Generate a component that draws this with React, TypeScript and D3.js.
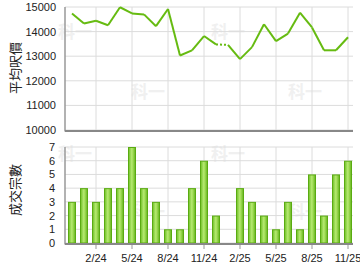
import React from "react";
import * as d3 from "d3";

const months = [
  "12/23","1/24","2/24","3/24","4/24","5/24","6/24","7/24","8/24","9/24","10/24","11/24",
  "12/24","1/25","2/25","3/25","4/25","5/25","6/25","7/25","8/25","9/25","10/25","11/25",
];
const avgPrice = [
  14740, 14330, 14440, 14260, 14990, 14740, 14700, 14220, 14920, 13030, 13240, 13820,
  13480, 13460, 12880, 13370, 14300, 13610, 13920, 14770, 14170, 13240, 13240, 13770,
];
// months with no transactions (price carried over, drawn dotted)
const noDeal = [
  false,false,false,false,false,false,false,false,false,false,false,false,
  false,true,false,false,false,false,false,false,false,false,false,false,
];
const deals = [3, 4, 3, 4, 4, 7, 4, 3, 1, 1, 4, 6, 2, 0, 4, 3, 2, 1, 3, 1, 5, 2, 5, 6];
const tickMonths = ["2/24","5/24","8/24","11/24","2/25","5/25","8/25","11/25"];
const priceTicks = [10000, 11000, 12000, 13000, 14000, 15000];
const dealTicks = [0, 1, 2, 3, 4, 5, 6, 7];

const FONT = "'Liberation Sans', Arial, sans-serif";

export default function App() {
  const x = d3.scaleBand<string>().domain(months).range([66, 354]).paddingInner(1 / 3).paddingOuter(1 / 6);
  const cx = (m: string) => (x(m) as number) + x.bandwidth() / 2;
  const yP = d3.scaleLinear().domain([10000, 15000]).range([130, 7]);
  const yD = d3.scaleLinear().domain([0, 7]).range([243, 147]);
  const left = 65, right = 353;

  const line = d3.line<number>().x((_, i) => cx(months[i])).y((d) => yP(d));
  const segs = avgPrice.slice(1).map((v, i) => ({
    d: line([avgPrice[i], v].map((z) => z)) as string,
    i,
  }));
  const segPath = (i: number) =>
    `M${cx(months[i])},${yP(avgPrice[i])}L${cx(months[i + 1])},${yP(avgPrice[i + 1])}`;

  const marks = [
    [75, 38], [148, 98], [228, 38], [305, 98],
    [75, 160], [148, 218], [228, 160], [305, 218],
  ];

  return (
    <svg width={360} height={270} style={{ position: "absolute", left: 0, top: 0, background: "#fff" }}>
      <defs>
        <linearGradient id="barg" x1="0" x2="1" y1="0" y2="0">
          <stop offset="0" stopColor="#6cbf22" />
          <stop offset="0.45" stopColor="#b4e870" />
          <stop offset="0.6" stopColor="#a6df5c" />
          <stop offset="1" stopColor="#62b41a" />
        </linearGradient>
      </defs>
      {marks.map(([mx, my], i) => (
        <text key={"w" + i} x={mx} y={my} textAnchor="middle" fontFamily="'Noto Sans CJK TC'" fontWeight="bold"
          fontSize={17} fill="#f0f0f0">科一</text>
      ))}
      {/* grids top */}
      {priceTicks.map((t) => (
        <line key={"pg" + t} x1={left} x2={right} y1={yP(t)} y2={yP(t)} stroke="#dcdcdc" strokeWidth={1} />
      ))}
      {dealTicks.map((t) => (
        <line key={"dg" + t} x1={left} x2={right} y1={yD(t)} y2={yD(t)} stroke="#dcdcdc" strokeWidth={1} />
      ))}
      {tickMonths.map((m) => (
        <g key={"vg" + m}>
          <line x1={cx(m)} x2={cx(m)} y1={yP(15000)} y2={yP(10000)} stroke="#dcdcdc" />
          <line x1={cx(m)} x2={cx(m)} y1={yD(7)} y2={yD(0)} stroke="#dcdcdc" />
        </g>
      ))}
      {/* line */}
      {avgPrice.slice(1).map((_, i) => (
        <path key={"s" + i} d={segPath(i)} fill="none" stroke="#66bb11" strokeWidth={2}
          strokeDasharray={noDeal[i + 1] ? "2,2" : undefined} strokeLinejoin="round" />
      ))}
      {/* bars */}
      {deals.map((v, i) =>
        v > 0 ? (
          <rect key={"b" + i} x={(x(months[i]) as number) + 0.5} y={yD(v) + 0.5} width={x.bandwidth() - 1}
            height={yD(0) - yD(v) - 0.5} fill="url(#barg)" stroke="#5aab12" strokeWidth={1} />
        ) : null
      )}
      {/* axes */}
      <line x1={left} x2={left} y1={yP(15000)} y2={131.5} stroke="#999" strokeWidth={1.5} />
      <line x1={left} x2={right} y1={131} y2={131} stroke="#888" strokeWidth={2} />
      <line x1={left} x2={left} y1={yD(7)} y2={244.5} stroke="#999" strokeWidth={1.5} />
      <line x1={left} x2={right} y1={244} y2={244} stroke="#888" strokeWidth={2} />
      {tickMonths.map((m) => (
        <g key={"xt" + m}>
          <line x1={cx(m)} x2={cx(m)} y1={245} y2={249} stroke="#999" />
          <text x={cx(m)} y={262} textAnchor="middle" fontFamily={FONT} fontSize={11} fill="#222">{m}</text>
        </g>
      ))}
      {priceTicks.map((t) => (
        <text key={"pt" + t} x={56} y={yP(t) + 4} textAnchor="end" fontFamily={FONT} fontSize={11} fill="#222">{t}</text>
      ))}
      {dealTicks.map((t) => (
        <text key={"dt" + t} x={55} y={yD(t) + 4} textAnchor="end" fontFamily={FONT} fontSize={11} fill="#222">{t}</text>
      ))}
      <text transform="translate(20,68) rotate(-90)" textAnchor="middle" fontFamily="'Noto Sans CJK TC'" fontSize={13} fill="#222">平均呎價</text>
      <text transform="translate(20,190) rotate(-90)" textAnchor="middle" fontFamily="'Noto Sans CJK TC'" fontSize={13} fill="#222">成交宗數</text>
    </svg>
  );
}
